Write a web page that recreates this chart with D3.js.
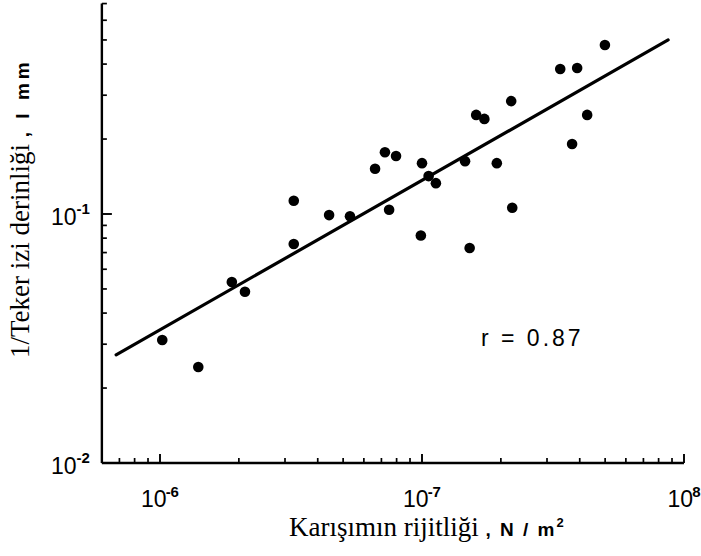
<!DOCTYPE html>
<html><head><meta charset="utf-8">
<script src="https://cdn.jsdelivr.net/npm/d3@7"></script>
<style>body{margin:0;background:#fff;} svg{display:block;}</style>
</head><body>
<svg id="c" width="701" height="556"></svg>
<script>
// Data
const stiffness = [1.02e6,1.40e6,1.88e6,2.11e6,3.24e6,3.24e6,4.42e6,5.31e6,6.62e6,7.22e6,7.96e6,7.49e6,1.0e7,9.9e6,1.06e7,1.13e7,1.46e7,1.52e7,1.61e7,1.73e7,1.93e7,2.19e7,2.21e7,3.37e7,3.74e7,3.91e7,4.27e7,4.99e7];
const invDepth = [0.0312,0.0243,0.0533,0.0487,0.113,0.0758,0.099,0.098,0.152,0.177,0.171,0.104,0.160,0.082,0.142,0.133,0.163,0.073,0.250,0.241,0.160,0.284,0.106,0.382,0.191,0.386,0.25,0.477];
const fitX = [6.8e5, 8.7e7];
const fitY = [0.0272, 0.50];
const xMajor = [1e6, 1e7, 1e8];
const xMajorExp = ["-6", "-7", "8"];
const yMajor = [0.01, 0.1];
const yMajorExp = ["-2", "-1"];
const xMinor = [7e5,8e5,9e5,2e6,3e6,4e6,5e6,6e6,7e6,8e6,9e6,2e7,3e7,4e7,5e7,6e7,7e7,8e7,9e7];
const yMinor = [0.02,0.03,0.04,0.05,0.06,0.07,0.08,0.09,0.2,0.3,0.4,0.5,0.6,0.7];
const rLabel = "r = 0.87";

const svg = d3.select("#c");
const x = d3.scaleLog().domain([1e6, 1e8]).range([160, 684]);
const y = d3.scaleLog().domain([0.01, 0.1]).range([463, 214]);
const x0 = x(6e5), x1 = x(1e8), y0 = y(0.01), y1 = y(0.7);

const ink = "#000";
// axes lines
svg.append("line").attr("x1", x0).attr("x2", x0).attr("y1", y1).attr("y2", y0).attr("stroke", ink).attr("stroke-width", 2.4);
svg.append("line").attr("x1", x0).attr("x2", x1).attr("y1", y0).attr("y2", y0).attr("stroke", ink).attr("stroke-width", 2.4);

// x ticks (inward)
svg.selectAll(".xmin").data(xMinor).join("line")
  .attr("x1", d => x(d)).attr("x2", d => x(d)).attr("y1", y0).attr("y2", y0 - 5)
  .attr("stroke", ink).attr("stroke-width", 1.7);
svg.selectAll(".xmaj").data(xMajor).join("line")
  .attr("x1", d => x(d)).attr("x2", d => x(d)).attr("y1", y0).attr("y2", y0 - 9)
  .attr("stroke", ink).attr("stroke-width", 1.9);
// y ticks (inward)
svg.selectAll(".ymin").data(yMinor).join("line")
  .attr("x1", x0).attr("x2", x0 + 5).attr("y1", d => y(d)).attr("y2", d => y(d))
  .attr("stroke", ink).attr("stroke-width", 1.7);
svg.selectAll(".ymaj").data(yMajor).join("line")
  .attr("x1", x0).attr("x2", x0 + 10).attr("y1", d => y(d)).attr("y2", d => y(d))
  .attr("stroke", ink).attr("stroke-width", 1.9);

const sans = "'Liberation Sans', Arial, sans-serif";
const serif = "'Liberation Serif', 'Times New Roman', serif";

// x tick labels
const xl = svg.selectAll(".xl").data(xMajor).join("text")
  .attr("x", d => x(d)).attr("y", 507).attr("text-anchor", "middle")
  .attr("font-family", sans).attr("font-size", 23).attr("fill", ink);
xl.append("tspan").text("10");
xl.append("tspan").attr("dy", -10).attr("dx", -1).attr("font-size", 15).attr("font-weight", "bold").text((d, i) => xMajorExp[i]);

// y tick labels
const yl = svg.selectAll(".yl").data(yMajor).join("text")
  .attr("x", 51).attr("y", d => y(d) + 11)
  .attr("font-family", sans).attr("font-size", 23).attr("fill", ink);
yl.append("tspan").text("10");
yl.append("tspan").attr("dy", -11).attr("font-size", 15).attr("font-weight", "bold").text((d, i) => yMajorExp[i]);

// fit line
svg.append("line").attr("x1", x(fitX[0])).attr("y1", y(fitY[0])).attr("x2", x(fitX[1])).attr("y2", y(fitY[1]))
  .attr("stroke", ink).attr("stroke-width", 3.2).attr("stroke-linecap", "round");

// points
svg.selectAll(".pt").data(stiffness).join("circle")
  .attr("cx", d => x(d)).attr("cy", (d, i) => y(invDepth[i])).attr("r", 5.3).attr("fill", ink);

// r label
svg.append("text").attr("x", 481).attr("y", 346).attr("font-family", sans).attr("font-size", 23)
  .attr("letter-spacing", 3).attr("fill", ink).text(rLabel);

// x title
const xt = svg.append("text").attr("x", 289).attr("y", 536).attr("fill", ink);
xt.append("tspan").attr("font-family", serif).attr("font-size", 27).text("Karışımın rijitliği  ");
xt.append("tspan").attr("font-family", sans).attr("font-size", 19).attr("font-weight", "bold").attr("letter-spacing", 2).text(", N / m");
xt.append("tspan").attr("font-family", sans).attr("font-size", 13).attr("font-weight", "bold").attr("dy", -9).text("2");

// y title
const yt = svg.append("text").attr("transform", "translate(29,358) rotate(-90)").attr("fill", ink);
yt.append("tspan").attr("font-family", serif).attr("font-size", 27).text("1/Teker izi derinliği  ");
yt.append("tspan").attr("font-family", sans).attr("font-size", 19).attr("font-weight", "bold").attr("letter-spacing", 4).text(", l mm");
</script>
</body></html>
